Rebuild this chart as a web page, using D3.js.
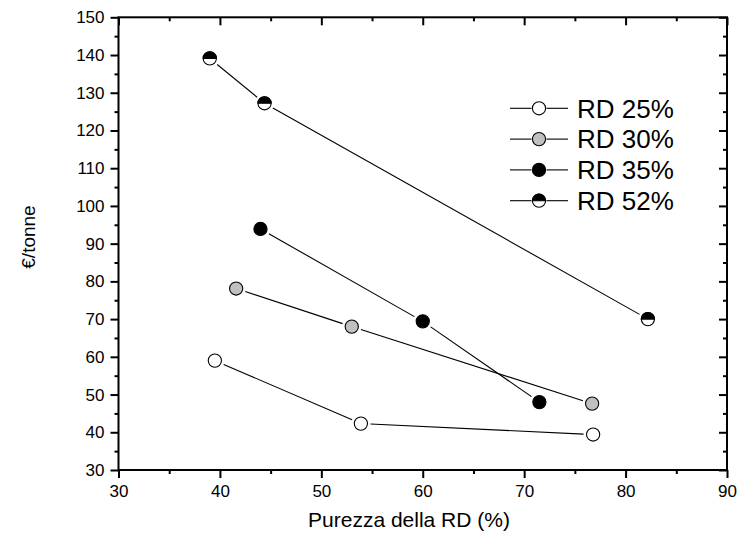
<!DOCTYPE html>
<html>
<head>
<meta charset="utf-8">
<script src="https://cdn.jsdelivr.net/npm/d3@7"></script>
<style>
html,body{margin:0;padding:0;background:#fff;}
svg{display:block;font-family:"Liberation Sans",Arial,sans-serif;}
</style>
</head>
<body>
<svg id="chart" width="745" height="536"></svg>
<script>
const seriesNames = ["RD 25%", "RD 30%", "RD 35%", "RD 52%"];
const seriesStyles = ["white", "gray", "black", "half"];
const rd25x = [39.5, 53.9, 76.8];
const rd25y = [59.0, 42.3, 39.4];
const rd30x = [41.6, 53.0, 76.7];
const rd30y = [78.1, 68.0, 47.6];
const rd35x = [44.0, 60.0, 71.5];
const rd35y = [93.9, 69.4, 48.0];
const rd52x = [39.0, 44.4, 82.2];
const rd52y = [139.1, 127.2, 70.0];
const xTicks = [30, 40, 50, 60, 70, 80, 90];
const yTicks = [30, 40, 50, 60, 70, 80, 90, 100, 110, 120, 130, 140, 150];
const xTitle = "Purezza della RD (%)";
const yTitle = "€/tonne";

const seriesX = [rd25x, rd30x, rd35x, rd52x];
const seriesY = [rd25y, rd30y, rd35y, rd52y];

const svg = d3.select("#chart");
const L = 118.5, R = 727, T = 17.3, B = 470;
const x = d3.scaleLinear().domain([30, 90]).range([L, R]);
const y = d3.scaleLinear().domain([30, 150]).range([B, T]);
const xMinor = d3.range(35, 90, 10);
const yMinor = d3.range(35, 150, 10);
const r = 6.6;

const tickLen = 8, minorLen = 4;
const axisG = svg.append("g");

function styleAxis(g) {
  g.select(".domain").remove();
  g.selectAll(".tick line").attr("stroke", "#000").attr("stroke-width", 2);
  g.selectAll(".tick text").attr("fill", "#000").style("font-size", "17px").style("font-family", "'Liberation Sans',Arial,sans-serif");
}

// bottom
axisG.append("g").attr("transform", `translate(0,${B})`)
  .call(d3.axisBottom(x).tickValues(xTicks).tickFormat(d3.format("d")).tickSize(tickLen).tickPadding(7))
  .call(styleAxis);
axisG.append("g").attr("transform", `translate(0,${B})`)
  .call(d3.axisBottom(x).tickValues(xMinor).tickFormat("").tickSize(minorLen))
  .call(styleAxis);
// top (inward)
axisG.append("g").attr("transform", `translate(0,${T})`)
  .call(d3.axisBottom(x).tickValues(xTicks).tickFormat("").tickSize(tickLen))
  .call(styleAxis);
axisG.append("g").attr("transform", `translate(0,${T})`)
  .call(d3.axisBottom(x).tickValues(xMinor).tickFormat("").tickSize(minorLen))
  .call(styleAxis);
// left
axisG.append("g").attr("transform", `translate(${L},0)`)
  .call(d3.axisLeft(y).tickValues(yTicks).tickFormat(d3.format("d")).tickSize(tickLen).tickPadding(6))
  .call(styleAxis);
axisG.append("g").attr("transform", `translate(${L},0)`)
  .call(d3.axisLeft(y).tickValues(yMinor).tickFormat("").tickSize(minorLen))
  .call(styleAxis);
// right (inward)
axisG.append("g").attr("transform", `translate(${R},0)`)
  .call(d3.axisLeft(y).tickValues(yTicks).tickFormat("").tickSize(tickLen))
  .call(styleAxis);
axisG.append("g").attr("transform", `translate(${R},0)`)
  .call(d3.axisLeft(y).tickValues(yMinor).tickFormat("").tickSize(minorLen))
  .call(styleAxis);

// frame
svg.append("rect").attr("x", L).attr("y", T).attr("width", R - L).attr("height", B - T)
  .attr("fill", "none").attr("stroke", "#000").attr("stroke-width", 2);

// titles
svg.append("text").attr("x", 409).attr("y", 527).attr("text-anchor", "middle")
  .style("font-size", "21px").attr("fill", "#000").text(xTitle);
svg.append("text").attr("transform", "translate(35,237) rotate(-90)").attr("text-anchor", "middle")
  .style("font-size", "19px").attr("fill", "#000").text(yTitle);

// marker drawing
function drawMarker(g, style) {
  const fill = style === "gray" ? "#c0c0c0" : style === "black" ? "#000" : "#fff";
  g.append("circle").attr("r", r).attr("fill", fill).attr("stroke", "#000").attr("stroke-width", 1.1);
  if (style === "half") {
    g.append("path").attr("d", `M${-r},0 A${r},${r} 0 0 1 ${r},0 Z`)
      .attr("fill", "#000").attr("stroke", "#000").attr("stroke-width", 1.1);
  }
}

const gap = r + 3;
const dataG = svg.append("g");
seriesX.forEach((xs, si) => {
  const pts = xs.map((v, i) => [x(v), y(seriesY[si][i])]);
  for (let i = 0; i < pts.length - 1; i++) {
    const [x1, y1] = pts[i], [x2, y2] = pts[i + 1];
    const dx = x2 - x1, dy = y2 - y1, len = Math.hypot(dx, dy);
    const ux = dx / len, uy = dy / len;
    dataG.append("line")
      .attr("x1", x1 + ux * gap).attr("y1", y1 + uy * gap)
      .attr("x2", x2 - ux * gap).attr("y2", y2 - uy * gap)
      .attr("stroke", "#000").attr("stroke-width", 1.1);
  }
  pts.forEach(p => {
    const g = dataG.append("g").attr("transform", `translate(${p[0]},${p[1]})`);
    drawMarker(g, seriesStyles[si]);
  });
});

// legend
const legG = svg.append("g");
seriesNames.forEach((name, i) => {
  const cy = 108.3 + i * 30.8;
  const cx = 539;
  legG.append("line").attr("x1", 510).attr("x2", 531.5).attr("y1", cy).attr("y2", cy)
    .attr("stroke", "#000").attr("stroke-width", 1.1);
  legG.append("line").attr("x1", 546.5).attr("x2", 568).attr("y1", cy).attr("y2", cy)
    .attr("stroke", "#000").attr("stroke-width", 1.1);
  const g = legG.append("g").attr("transform", `translate(${cx},${cy})`);
  drawMarker(g, seriesStyles[i]);
  legG.append("text").attr("x", 577).attr("y", cy + 9.3)
    .style("font-size", "26px").attr("fill", "#000").text(name);
});
</script>
</body>
</html>
